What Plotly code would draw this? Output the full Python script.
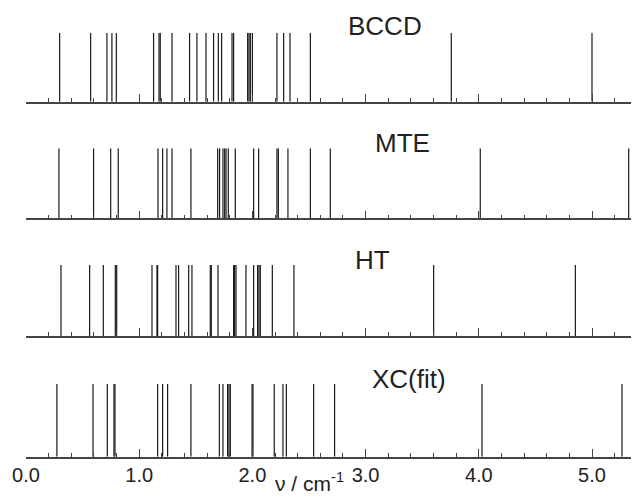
import plotly.graph_objects as go

# Line positions (cm^-1)
bccd = [0.297, 0.571, 0.715, 0.759, 0.798, 1.127, 1.175, 1.186, 1.290, 1.445, 1.510,
        1.590, 1.657, 1.699, 1.728, 1.820, 1.834, 1.958, 1.970, 1.982, 2.000, 2.217,
        2.276, 2.332, 2.512, 3.757, 5.000]
mte = [0.291, 0.597, 0.748, 0.815, 1.166, 1.207, 1.245, 1.290, 1.457, 1.693, 1.710,
       1.740, 1.755, 1.767, 1.787, 1.849, 2.011, 2.055, 2.217, 2.229, 2.314, 2.512,
       2.688, 4.013, 5.324]
ht = [0.309, 0.562, 0.683, 0.789, 0.801, 1.113, 1.157, 1.163, 1.325, 1.348, 1.437,
      1.466, 1.628, 1.637, 1.696, 1.834, 1.843, 1.855, 1.943, 2.011, 2.046, 2.058,
      2.070, 2.176, 2.367, 3.601, 4.853]
xc = [0.273, 0.592, 0.718, 0.777, 0.786, 1.163, 1.207, 1.251, 1.457, 1.708, 1.740,
      1.781, 1.793, 1.805, 1.997, 2.005, 2.193, 2.270, 2.300, 2.541, 2.726, 4.028,
      5.265]

series_names = ["BCCD", "MTE", "HT", "XC(fit)"]
series_vals = [bccd, mte, ht, xc]
tick_vals = [0, 1, 2, 3, 4, 5]
tick_text = ["0.0", "1.0", "2.0", "3.0", "4.0", "5.0"]

# page has an 8px body margin; figure is sized to fill the rest of the window
OFF = 8
W, H = 639 - OFF, 496 - OFF
L = 26 - OFF
PW = W - L
baselines = [101.7, 218.3, 336.0, 456.7]
tops = [32.7, 148.3, 265.0, 384.0]
label_pos = [(385, 26), (402, 143), (372, 260), (409, 379)]


def px_x(px):
    return (px - OFF - L) / PW


def px_y(py):
    return 1 - (py - OFF) / H


fig = go.Figure()
FONT = "Liberation Sans, Arial, Helvetica, sans-serif"
XMAX = PW / 113.2

for i, (name, vals) in enumerate(zip(series_names, series_vals)):
    xs, ys = [], []
    for v in vals:
        xs += [v, v, None]
        ys += [0, 1, None]
    ax = "" if i == 0 else str(i + 1)
    fig.add_trace(go.Scatter(x=xs, y=ys, mode="lines",
                             line=dict(color="#1a1a1a", width=1.2),
                             xaxis="x" + ax, yaxis="y" + ax,
                             showlegend=False, hoverinfo="skip"))
    dom = [px_y(baselines[i]), px_y(tops[i])]
    fig.update_layout(**{
        "xaxis" + ax: dict(range=[0, XMAX], domain=[0, 1], anchor="y" + ax,
                           showline=True, linecolor="#444", linewidth=1.5,
                           showgrid=False, zeroline=False,
                           ticks="inside", ticklen=8, tickwidth=1.2, tickcolor="#444",
                           tickvals=tick_vals, ticktext=tick_text,
                           showticklabels=(i == 3), ticklabelstandoff=0,
                           tickfont=dict(family=FONT, size=20, color="#222"),
                           minor=dict(ticks="inside", ticklen=4, tickwidth=1.2,
                                      tickcolor="#444", dtick=0.2, tick0=0,
                                      showgrid=False)),
        "yaxis" + ax: dict(range=[0, 1], domain=dom, anchor="x" + ax,
                           visible=False, fixedrange=True),
    })
    lx, ly = label_pos[i]
    fig.add_annotation(text=name, xref="paper", yref="paper",
                       x=px_x(lx), y=px_y(ly),
                       xanchor="center", yanchor="middle", showarrow=False,
                       font=dict(family=FONT, size=26, color="#222"))

fig.add_annotation(text="ν / cm<sup>-1</sup>", xref="paper", yref="paper",
                   x=px_x(309), y=px_y(497), xanchor="center", yanchor="bottom",
                   showarrow=False, font=dict(family=FONT, size=21, color="#222"))

fig.update_layout(width=W, height=H, margin=dict(l=L, r=0, t=0, b=0),
                  plot_bgcolor="white", paper_bgcolor="white")
fig.write_html("out.html")
